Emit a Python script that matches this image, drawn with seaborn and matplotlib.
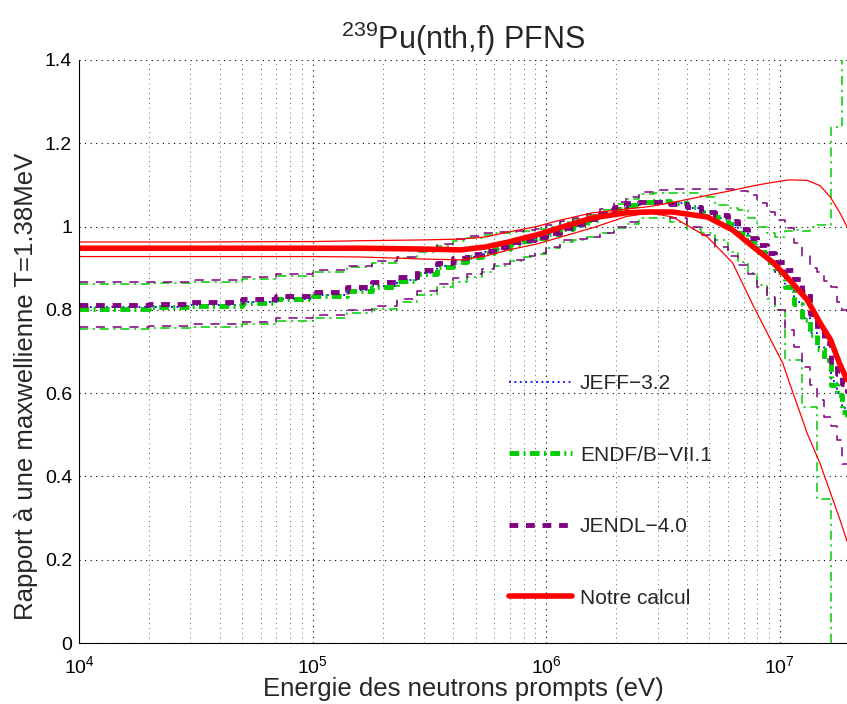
import numpy as np
import pandas as pd
import matplotlib
matplotlib.use("Agg")
import matplotlib.pyplot as plt
import seaborn as sns
from matplotlib.ticker import LogLocator, MultipleLocator, FuncFormatter, NullFormatter, LogFormatterSciNotation

# ---------------- data ----------------
# "Notre calcul" (smooth curve) and its uncertainty envelope
E_calc = [1e4, 3e4, 1e5, 1.6e5, 3e5, 4.3e5, 5.5e5, 6.9e5, 9.1e5, 1.14e6, 1.58e6, 2.2e6,
          2.76e6, 3.48e6, 4.9e6, 6.28e6, 7.7e6, 9.3e6, 1.03e7, 1.1e7, 1.31e7, 1.49e7,
          1.65e7, 1.8e7, 1.94e7]
calc = [0.948, 0.948, 0.948, 0.948, 0.946, 0.944, 0.951, 0.963, 0.980, 0.997, 1.021, 1.033,
        1.035, 1.035, 1.023, 0.992, 0.951, 0.915, 0.889, 0.872, 0.824, 0.768,
        0.728, 0.672, 0.632]
calc_up = [0.963, 0.963, 0.964, 0.966, 0.968, 0.970, 0.975, 0.987, 1.000, 1.015, 1.033, 1.042,
           1.048, 1.058, 1.075, 1.087, 1.098, 1.106, 1.110, 1.112, 1.111, 1.098,
           1.070, 1.035, 1.000]
calc_lo = [0.928, 0.928, 0.928, 0.927, 0.922, 0.920, 0.929, 0.944, 0.958, 0.974, 0.997, 1.024,
           1.033, 1.023, 0.975, 0.913, 0.810, 0.720, 0.672, 0.625, 0.504, 0.430,
           0.360, 0.300, 0.245]

# Evaluated libraries (histograms)
E_eval = [1e4, 2e4, 3e4, 5e4, 7e4, 1e5, 1.4e5, 1.8e5, 2.3e5, 2.8e5, 3.4e5, 4e5, 4.6e5, 5.3e5,
          6e5, 7e5, 8e5, 9e5, 1e6, 1.15e6, 1.3e6, 1.5e6, 1.7e6, 1.95e6, 2.2e6, 2.5e6, 2.9e6,
          3.4e6, 4e6, 4.6e6, 5.3e6, 6e6, 6.6e6, 7.3e6, 8e6, 8.8e6, 9.5e6, 1.05e7, 1.15e7,
          1.25e7, 1.35e7, 1.45e7, 1.55e7, 1.65e7, 1.75e7, 1.85e7, 1.94e7]

jeff = [0.806, 0.808, 0.812, 0.819, 0.827, 0.836, 0.847, 0.858, 0.872, 0.888, 0.905, 0.918,
        0.928, 0.938, 0.947, 0.957, 0.966, 0.973, 0.982, 0.994, 1.005, 1.017, 1.031, 1.044,
        1.053, 1.060, 1.061, 1.056, 1.045, 1.034, 1.021, 1.004, 0.984, 0.962, 0.940, 0.915,
        0.890, 0.857, 0.820, 0.780, 0.745, 0.710, 0.685, 0.630, 0.600, 0.565, 0.550]

endf = [0.803, 0.806, 0.810, 0.817, 0.825, 0.834, 0.845, 0.856, 0.870, 0.886, 0.903, 0.916,
        0.927, 0.937, 0.946, 0.957, 0.965, 0.972, 0.981, 0.993, 1.004, 1.016, 1.030, 1.043,
        1.052, 1.060, 1.062, 1.057, 1.046, 1.035, 1.022, 1.005, 0.985, 0.963, 0.940, 0.915,
        0.890, 0.855, 0.815, 0.775, 0.740, 0.705, 0.680, 0.620, 0.595, 0.555, 0.540]
endf_up = [0.862, 0.864, 0.868, 0.874, 0.882, 0.890, 0.902, 0.912, 0.924, 0.938, 0.953, 0.965,
           0.973, 0.980, 0.984, 0.987, 0.990, 0.994, 1.000, 1.010, 1.018, 1.028, 1.040, 1.055,
           1.067, 1.078, 1.080, 1.080, 1.080, 1.072, 1.052, 1.045, 1.040, 1.020, 1.000, 0.985,
           0.975, 0.990, 0.992, 0.990, 1.000, 1.004, 1.004, 1.240, 1.240, 1.600, 1.600]
endf_lo = [0.754, 0.756, 0.760, 0.766, 0.773, 0.781, 0.792, 0.803, 0.818, 0.836, 0.854, 0.868,
           0.880, 0.892, 0.905, 0.917, 0.926, 0.934, 0.948, 0.962, 0.968, 0.975, 0.985, 0.997,
           1.006, 1.020, 1.020, 1.010, 0.995, 0.985, 0.968, 0.940, 0.915, 0.889, 0.860, 0.825,
           0.800, 0.680, 0.680, 0.567, 0.567, 0.345, 0.345, -0.500, -0.500, -0.500, -0.500]

jendl = [0.811, 0.815, 0.819, 0.826, 0.834, 0.843, 0.855, 0.866, 0.878, 0.895, 0.912, 0.925,
         0.933, 0.942, 0.952, 0.963, 0.968, 0.974, 0.985, 0.997, 1.006, 1.017, 1.033, 1.046,
         1.057, 1.059, 1.058, 1.054, 1.046, 1.036, 1.028, 1.014, 0.995, 0.973, 0.955, 0.937,
         0.914, 0.895, 0.875, 0.846, 0.790, 0.750, 0.720, 0.670, 0.645, 0.622, 0.600]
jendl_up = [0.866, 0.868, 0.872, 0.878, 0.886, 0.895, 0.906, 0.917, 0.928, 0.942, 0.958, 0.970,
            0.978, 0.985, 0.988, 0.990, 0.992, 0.995, 1.003, 1.013, 1.020, 1.030, 1.042, 1.058,
            1.071, 1.083, 1.088, 1.090, 1.090, 1.090, 1.090, 1.090, 1.085, 1.076, 1.057, 1.035,
            1.016, 0.997, 0.960, 0.930, 0.900, 0.890, 0.870, 0.855, 0.820, 0.800, 0.780]
jendl_lo = [0.760, 0.762, 0.766, 0.772, 0.780, 0.788, 0.800, 0.810, 0.826, 0.845, 0.862, 0.876,
            0.885, 0.898, 0.910, 0.920, 0.930, 0.937, 0.952, 0.968, 0.970, 0.975, 0.985, 1.000,
            1.010, 1.030, 1.030, 1.020, 1.000, 0.980, 0.951, 0.930, 0.908, 0.885, 0.855, 0.830,
            0.800, 0.752, 0.710, 0.663, 0.620, 0.584, 0.543, 0.520, 0.488, 0.430, 0.430]

labels = ["JEFF\u22123.2", "ENDF/B\u2212VII.1", "JENDL\u22124.0", "Notre calcul"]
yticks = [0, 0.2, 0.4, 0.6, 0.8, 1.0, 1.2, 1.4]
xticks = [1e4, 1e5, 1e6, 1e7]

# ---------------- style ----------------
sns.set_style("white")
plt.rcParams['font.family'] = ['Liberation Sans', 'DejaVu Sans']
plt.rcParams['mathtext.fontset'] = 'custom'
plt.rcParams['mathtext.rm'] = 'Liberation Sans'
plt.rcParams['mathtext.it'] = 'Liberation Sans:italic'
plt.rcParams['mathtext.bf'] = 'Liberation Sans:bold'

GREEN = '#00cc00'
PURPLE = '#7f0080'
BLUE = '#0000ff'
RED = '#ff0000'

fig = plt.figure(figsize=(8.47, 7.04), dpi=100)
ax = fig.add_axes([79 / 847, 61 / 704, (847 - 79) / 847, 583 / 704])
ax.set_xscale('log')


def draw(x, y, steps=False, **kw):
    df = pd.DataFrame({'E': x, 'v': y})
    extra = {'drawstyle': 'steps-post'} if steps else {}
    sns.lineplot(data=df, x='E', y='v', ax=ax, estimator=None, sort=False,
                 legend=False, **extra, **kw)
    return ax.lines[-1]


# uncertainty bands (thin)
draw(E_eval, endf_up, steps=True, color=GREEN, lw=1.1, linestyle=(0, (6, 3, 1.5, 3)))
draw(E_eval, endf_lo, steps=True, color=GREEN, lw=1.1, linestyle=(0, (6, 3, 1.5, 3)))
draw(E_eval, jendl_up, steps=True, color=PURPLE, lw=1.1, linestyle=(0, (6, 5)))
draw(E_eval, jendl_lo, steps=True, color=PURPLE, lw=1.1, linestyle=(0, (6, 5)))

# mean evaluations
h_jeff = draw(E_eval, jeff, steps=True, color=BLUE, lw=1.3, linestyle=(0, (1, 2)))
h_endf = draw(E_eval, endf, steps=True, color=GREEN, lw=3.5, linestyle=(0, (2.0, 0.9, 0.4, 0.9)))
h_jendl = draw(E_eval, jendl, steps=True, color=PURPLE, lw=3.5, linestyle=(0, (1.8, 1.6)))

# our calculation
draw(E_calc, calc_up, color=RED, lw=0.9, linestyle='-')
draw(E_calc, calc_lo, color=RED, lw=0.9, linestyle='-')
h_calc = draw(E_calc, calc, color=RED, lw=4.0, linestyle='-')

# ---------------- axes ----------------
ax.set_xlim(1e4, 1.94e7)
ax.set_ylim(0, 1.4)
ax.set_yticks(yticks)
ax.yaxis.set_major_formatter(FuncFormatter(lambda v, p: '%g' % v))
ax.yaxis.set_minor_locator(MultipleLocator(0.02))
ax.set_xticks(xticks)
ax.xaxis.set_major_formatter(LogFormatterSciNotation())
ax.xaxis.set_minor_locator(LogLocator(base=10, subs=np.arange(2, 10)))
ax.xaxis.set_minor_formatter(NullFormatter())
ax.tick_params(axis='both', which='both', direction='in', top=False, right=False,
               labelsize=14, colors='black')
ax.tick_params(which='major', length=5, width=0.8)
ax.tick_params(which='minor', length=2.5, width=0.6)
ax.tick_params(axis='x', which='major', pad=9)
ax.tick_params(axis='y', which='major', pad=5)
for s in ['top', 'right']:
    ax.spines[s].set_visible(False)
for s in ['left', 'bottom']:
    ax.spines[s].set_color('black')
    ax.spines[s].set_linewidth(0.8)

ax.grid(which='major', axis='both', color='black', lw=0.8, linestyle=(0, (1, 4)))
ax.xaxis.grid(which='minor', color='0.4', lw=0.7, linestyle=(0, (1, 4)))
ax.set_axisbelow(True)

ax.set_xlabel('Energie des neutrons prompts (eV)', fontsize=18.5)
ax.xaxis.set_label_coords(0.5, -0.058)
ax.set_ylabel('Rapport \u00e0 une maxwellienne T=1.38MeV', fontsize=18.5)
ax.yaxis.set_label_coords(-0.053, 0.44)
ax.set_title(r'$\mathdefault{^{239}}$Pu(nth,f) PFNS', fontsize=22, pad=8)

ax.legend([h_jeff, h_endf, h_jendl, h_calc], labels, loc='upper left',
          bbox_to_anchor=(0.56, 0.461), frameon=False, fontsize=15,
          handlelength=3.0, handletextpad=0.4, labelspacing=2.52,
          borderaxespad=0, borderpad=0)

fig.savefig('out.png', dpi=100)
